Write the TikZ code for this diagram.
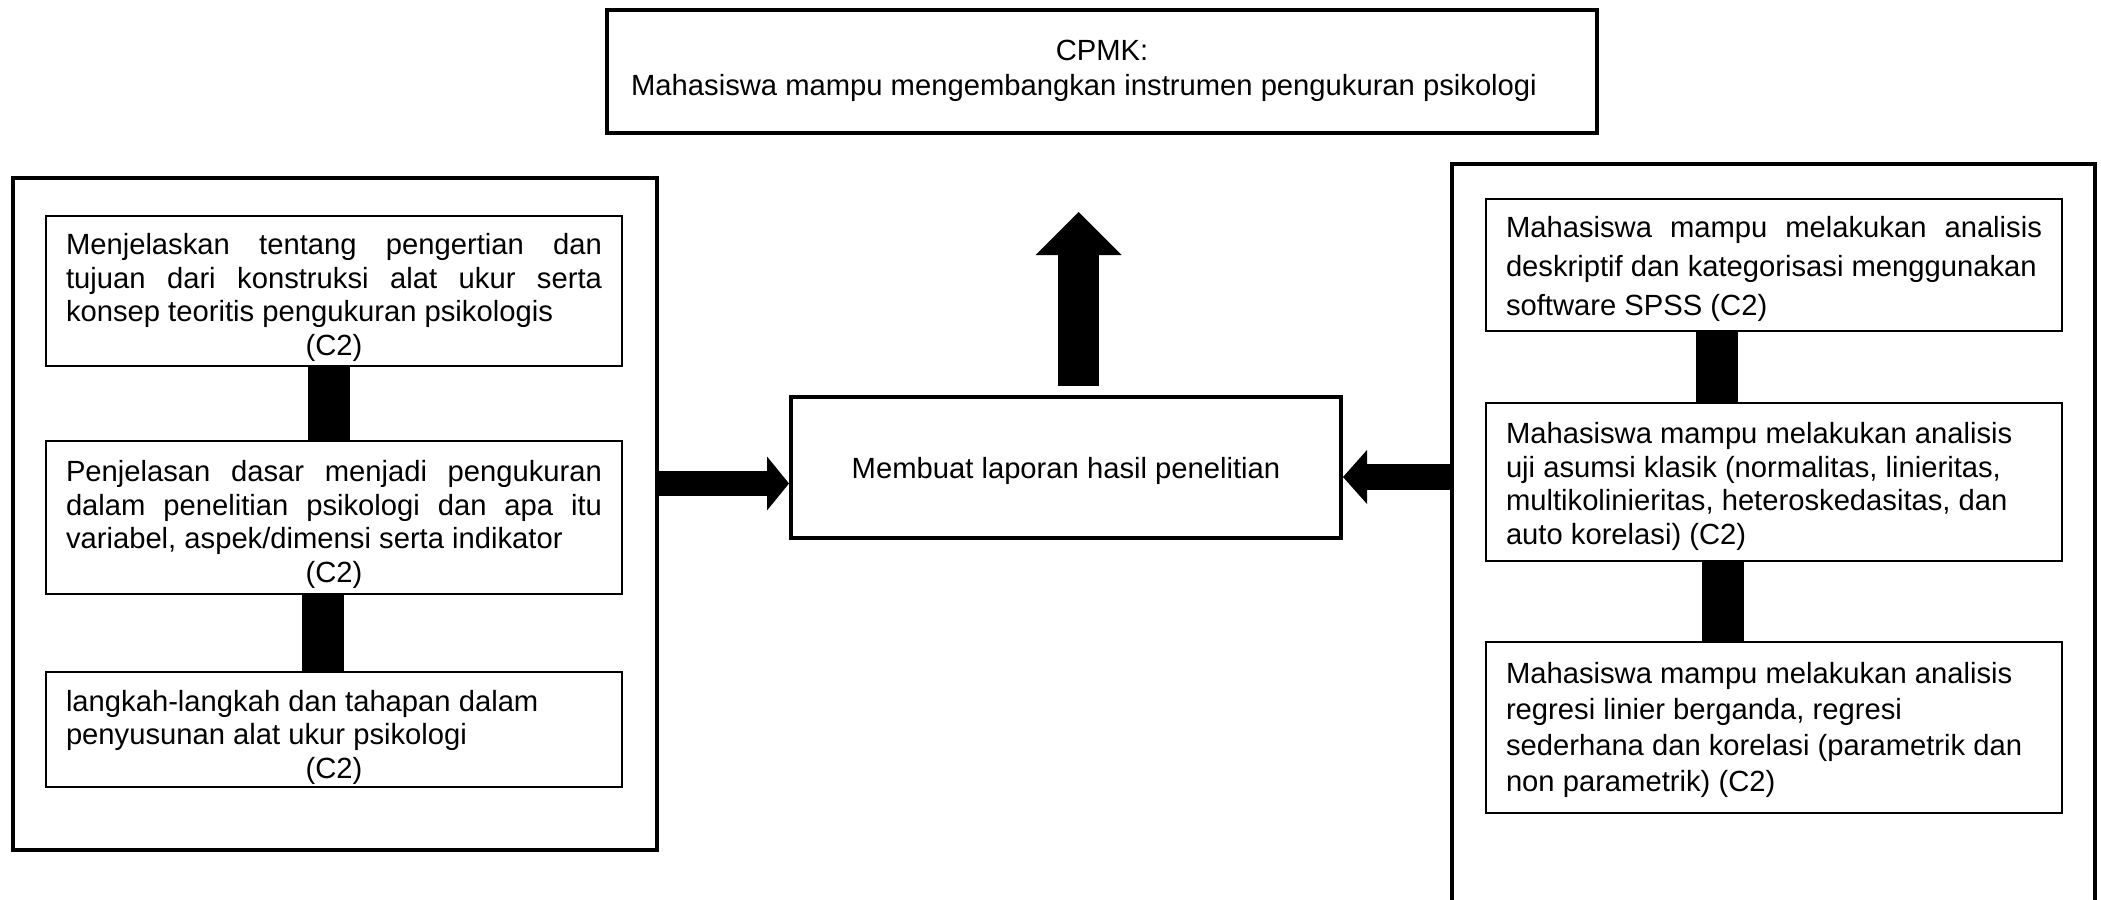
\documentclass[tikz,border=0pt]{standalone}
\usepackage{fontspec}
\setmainfont{Liberation Sans}
\usetikzlibrary{arrows.meta,positioning}
\newlength{\boxtw}
\setlength{\boxtw}{268pt}

\begin{document}
\begin{tikzpicture}[x=0.5pt,y=-0.5pt,
  font=\fontsize{14.6pt}{16.8pt}\selectfont,
  frame/.style={draw,line width=2pt,inner sep=0pt},
  item/.style={draw,line width=0.75pt,text width=\boxtw,inner xsep=10pt,inner ysep=0pt,
    align=justify,minimum width=288pt,text height=0pt},
  bar/.style={line width=21pt},
  fat/.style={line width=#1}]
\clip (0,0) rectangle (2101,900);
\fill[white] (0,0) rectangle (2101,900);

% frames
\node[frame,minimum width=495pt,minimum height=61.5pt,align=center,
  font=\fontsize{14.6pt}{17.5pt}\selectfont] (cpmk) at (1102,71)
  {CPMK:\\Mahasiswa mampu mengembangkan instrumen pengukuran psikologi\hspace*{18pt}};
\node[frame,minimum width=322pt,minimum height=336pt] (leftframe) at (335,514) {};
\node[frame,minimum width=321.5pt,minimum height=418pt] (rightframe) at (1773.5,581.5) {};
\node[frame,minimum width=275pt,minimum height=70.5pt,text height=14.5pt,text depth=3.1pt]
  (laporan) at (1066,467.5) {Membuat laporan hasil penelitian};

% left column
\node[item,minimum height=75pt,text depth=36.4pt] (tujuan) at (334,291)
  {\makebox[\boxtw][s]{Menjelaskan tentang pengertian dan}\\
   \makebox[\boxtw][s]{tujuan dari konstruksi alat ukur serta}\\
   konsep teoritis pengukuran psikologis\\
   \makebox[\boxtw]{(C2)}};
\node[item,minimum height=76.5pt,text depth=36pt] (dasar) at (334,517.5)
  {\makebox[\boxtw][s]{Penjelasan dasar menjadi pengukuran}\\
   \makebox[\boxtw][s]{dalam penelitian psikologi dan apa itu}\\
   variabel, aspek/dimensi serta indikator\\
   \makebox[\boxtw]{(C2)}};
\node[item,minimum height=57.5pt,text depth=18.3pt] (langkah) at (334,729.5)
  {langkah-langkah dan tahapan dalam\\
   penyusunan alat ukur psikologi\\
   \makebox[\boxtw]{(C2)}};

% right column
\node[item,minimum height=66pt,text depth=27.6pt,
  font=\fontsize{14.6pt}{19.5pt}\selectfont] (deskriptif) at (1774,265)
  {\makebox[\boxtw][s]{Mahasiswa mampu melakukan analisis}\\
   deskriptif dan kategorisasi menggunakan\\
   software SPSS (C2)};
\node[item,minimum height=79pt,text depth=38.5pt] (asumsi) at (1774,482)
  {Mahasiswa mampu melakukan analisis\\
   uji asumsi klasik (normalitas, linieritas,\\
   multikolinieritas, heteroskedasitas, dan\\
   auto korelasi) (C2)};
\node[item,minimum height=85.5pt,text depth=43.6pt,
  font=\fontsize{14.6pt}{17.9pt}\selectfont] (regresi) at (1774,727.5)
  {Mahasiswa mampu melakukan analisis\\
   regresi linier berganda, regresi\\
   sederhana dan korelasi (parametrik dan\\
   non parametrik) (C2)};

% bars
\draw[bar] ([xshift=-2.5pt]tujuan.south) -- ([xshift=-2.5pt]dasar.north);
\draw[bar] ([xshift=-5.5pt]dasar.south) -- ([xshift=-5.5pt]langkah.north);
\draw[bar] ([xshift=-28.4pt]deskriptif.south) -- ([xshift=-28.4pt]asumsi.north);
\draw[bar] ([xshift=-25.4pt]asumsi.south) -- ([xshift=-25.4pt]regresi.north);

% arrows
\coordinate (uptip) at (1078.5,212);
\coordinate (inL) at ([yshift=-8pt]laporan.west);
\coordinate (inR) at ([yshift=-4.75pt]laporan.east);
\draw[fat=20.5pt,-{Triangle[length=21.5pt,width=43pt,line width=0pt]}]
  ([xshift=6.25pt,yshift=4.5pt]laporan.north) -- (uptip);
\draw[fat=12.5pt,-{Triangle[length=11pt,width=27pt,line width=0pt]}]
  (inL -| leftframe.east) -- (inL);
\draw[fat=13pt,-{Triangle[length=12pt,width=27pt,line width=0pt]}]
  (inR -| rightframe.west) -- (inR);
\end{tikzpicture}
\end{document}
